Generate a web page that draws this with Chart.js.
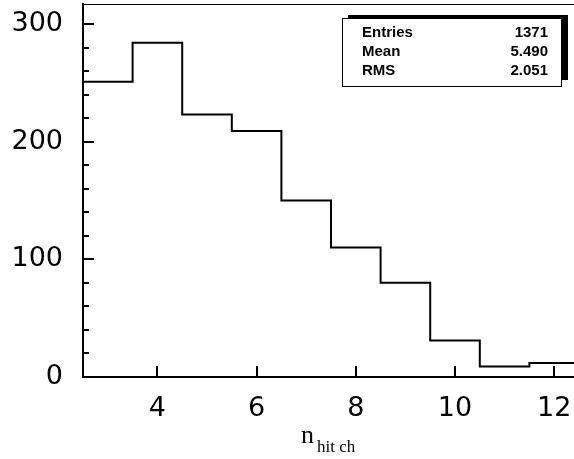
<!DOCTYPE html>
<html>
<head>
<meta charset="utf-8">
<script src="https://cdn.jsdelivr.net/npm/chart.js@4.4.0/dist/chart.umd.min.js"></script>
<style>
  html, body { margin: 0; padding: 0; background: #fff; overflow: hidden; }
  #wrap { width: 580px; height: 459px; }
</style>
</head>
<body>
<div id="wrap"><canvas id="hist" width="580" height="459"></canvas></div>
<script>
// histogram of n_hit ch, unit-width bins centred on integers
const binCenters = [3, 4, 5, 6, 7, 8, 9, 10, 11, 12]
const counts = [251, 284, 223, 209, 150, 110, 80, 31, 9, 12]

const xTicks = [4, 6, 8, 10, 12]
const yTicks = [0, 100, 200, 300]
const yMinorTicks = [20, 40, 60, 80, 120, 140, 160, 180, 220, 240, 260, 280]

const statNames = ["Entries", "Mean", "RMS"]
const statValues = ["1371", "5.490", "2.051"]

// step outline: left edge of each bin, then close on the last right edge
const steps = binCenters.map((c, i) => ({ x: c - 0.5, y: counts[i] }))
steps.push({ x: binCenters[binCenters.length - 1] + 0.5, y: counts[counts.length - 1] })

const frame = {
  id: "frame",
  afterDatasetsDraw(chart) {
    const { ctx, chartArea: a, scales: { x, y } } = chart
    ctx.save()
    ctx.strokeStyle = "#000"

    // thin frame on top / right
    ctx.lineWidth = 1
    ctx.beginPath()
    ctx.moveTo(a.left, a.top + 0.5)
    ctx.lineTo(a.right - 0.5, a.top + 0.5)
    ctx.lineTo(a.right - 0.5, a.bottom)
    ctx.stroke()

    // inward tick marks
    ctx.lineWidth = 2
    ctx.beginPath()
    xTicks.forEach(v => {
      const px = Math.round(x.getPixelForValue(v))
      ctx.moveTo(px, a.bottom)
      ctx.lineTo(px, a.bottom - 11)
    })
    yTicks.forEach(v => {
      const py = Math.round(y.getPixelForValue(v))
      ctx.moveTo(a.left, py)
      ctx.lineTo(a.left + 11, py)
    })
    yMinorTicks.forEach(v => {
      const py = Math.round(y.getPixelForValue(v))
      ctx.moveTo(a.left, py)
      ctx.lineTo(a.left + 6, py)
    })
    ctx.stroke()

    // stats box with shadow
    const bx = 342, by = 18, bw = 219, bh = 68
    ctx.fillStyle = "#000"
    ctx.fillRect(bx + 6, by - 3, bw + 1, bh - 3)
    ctx.fillStyle = "#fff"
    ctx.fillRect(bx, by, bw, bh)
    ctx.lineWidth = 1
    ctx.strokeRect(bx + 0.5, by + 0.5, bw, bh)

    ctx.fillStyle = "#000"
    ctx.font = "bold 15px 'Liberation Sans', Arial, sans-serif"
    ctx.textBaseline = "alphabetic"
    statNames.forEach((name, i) => {
      const base = 37 + i * 19
      ctx.textAlign = "left"
      ctx.fillText(name, bx + 20, base)
      ctx.textAlign = "right"
      ctx.fillText(statValues[i], bx + bw - 13, base)
    })

    // axis title n_{hit ch}
    ctx.textAlign = "left"
    ctx.font = "26px 'Liberation Serif', 'Times New Roman', serif"
    ctx.fillText("n", 301, 443)
    ctx.font = "17px 'Liberation Serif', 'Times New Roman', serif"
    ctx.fillText("hit ch", 317, 452)
    ctx.restore()
  }
}

const tickFont = { family: "'DejaVu Sans', sans-serif", size: 27 }

new Chart(document.getElementById("hist"), {
  type: "line",
  data: {
    datasets: [{
      data: steps,
      stepped: true,
      borderColor: "#000",
      borderWidth: 2,
      pointRadius: 0,
      fill: false
    }]
  },
  options: {
    responsive: false,
    animation: false,
    layout: { padding: { top: 4, right: 1, left: 0, bottom: 0 } },
    plugins: { legend: { display: false }, tooltip: { enabled: false } },
    scales: {
      x: {
        type: "linear",
        min: 2.5,
        max: 12.5,
        afterBuildTicks: s => { s.ticks = xTicks.map(v => ({ value: v })) },
        afterFit: s => { s.height = 82; s.paddingLeft = 0; s.paddingRight = 0 },
        grid: { display: false, drawTicks: false },
        border: { color: "#000", width: 2 },
        ticks: { font: tickFont, color: "#000", padding: 16, maxRotation: 0, autoSkip: false }
      },
      y: {
        min: 0,
        max: 317,
        afterBuildTicks: s => { s.ticks = yTicks.map(v => ({ value: v })) },
        afterFit: s => { s.width = 83; s.paddingTop = 0; s.paddingBottom = 0 },
        grid: { display: false, drawTicks: false },
        border: { color: "#000", width: 2 },
        ticks: { font: tickFont, color: "#000", padding: 20 }
      }
    }
  },
  plugins: [frame]
})
</script>
</body>
</html>
